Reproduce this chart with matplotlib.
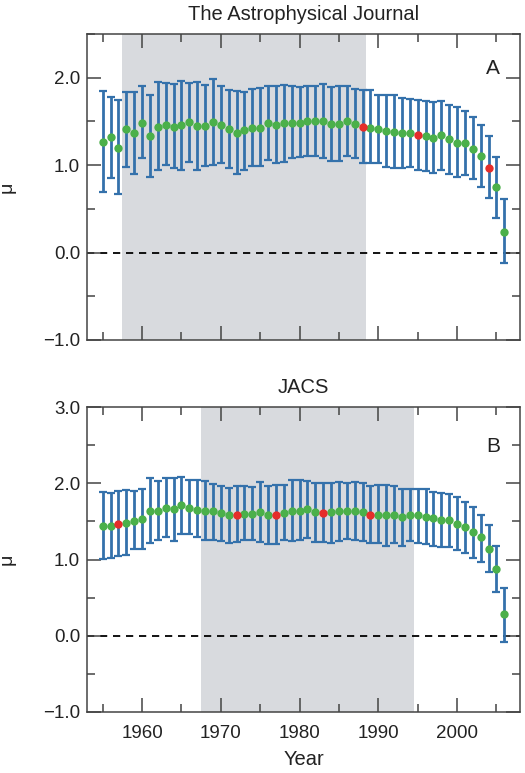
import matplotlib
matplotlib.use("Agg")
import matplotlib.pyplot as plt
import numpy as np
from matplotlib.ticker import MultipleLocator

plt.rcParams['font.family'] = ['Liberation Sans', 'DejaVu Sans']

years = list(range(1955, 2007))

# Panel A: The Astrophysical Journal
apj_mu = [1.27, 1.32, 1.20, 1.41, 1.37, 1.48, 1.33, 1.44, 1.46, 1.44, 1.46, 1.49, 1.45, 1.45, 1.49, 1.46,
          1.41, 1.37, 1.40, 1.43, 1.43, 1.48, 1.46, 1.48, 1.48, 1.48, 1.51, 1.51, 1.50, 1.47, 1.47, 1.51,
          1.47, 1.44, 1.42, 1.41, 1.39, 1.38, 1.37, 1.37, 1.35, 1.33, 1.31, 1.34, 1.30, 1.25, 1.25, 1.19,
          1.10, 0.97, 0.75, 0.24]
apj_hi = [1.85, 1.78, 1.74, 1.84, 1.84, 1.90, 1.80, 1.95, 1.94, 1.93, 1.96, 1.94, 1.95, 1.92, 1.99, 1.90,
          1.86, 1.85, 1.84, 1.87, 1.88, 1.90, 1.90, 1.92, 1.90, 1.89, 1.91, 1.90, 1.93, 1.89, 1.90, 1.91,
          1.87, 1.86, 1.86, 1.80, 1.80, 1.80, 1.77, 1.76, 1.75, 1.73, 1.72, 1.73, 1.69, 1.66, 1.62, 1.55,
          1.46, 1.33, 1.09, 0.61]
apj_lo = [0.69, 0.85, 0.67, 0.98, 0.90, 1.08, 0.87, 0.95, 1.00, 0.97, 0.95, 1.04, 0.95, 0.99, 1.00, 1.03,
          0.97, 0.90, 0.95, 0.99, 0.99, 1.06, 1.02, 1.04, 1.08, 1.09, 1.11, 1.11, 1.08, 1.05, 1.05, 1.10,
          1.08, 1.03, 1.02, 1.02, 0.98, 0.97, 0.97, 0.98, 0.94, 0.93, 0.91, 0.95, 0.90, 0.87, 0.89, 0.84,
          0.75, 0.62, 0.40, -0.12]
apj_red = [1988, 1995, 2004]
apj_shade = (1957.5, 1988.5)

# Panel B: JACS
jacs_mu = [1.44, 1.44, 1.47, 1.48, 1.51, 1.53, 1.63, 1.64, 1.67, 1.66, 1.71, 1.67, 1.65, 1.64, 1.64, 1.61,
           1.58, 1.59, 1.60, 1.60, 1.62, 1.59, 1.59, 1.61, 1.64, 1.64, 1.66, 1.62, 1.61, 1.62, 1.63, 1.63,
           1.64, 1.62, 1.59, 1.59, 1.58, 1.59, 1.56, 1.59, 1.58, 1.56, 1.54, 1.52, 1.52, 1.47, 1.43, 1.36,
           1.29, 1.14, 0.88, 0.28]
jacs_hi = [1.88, 1.87, 1.90, 1.91, 1.90, 1.93, 2.07, 2.03, 2.07, 2.07, 2.08, 2.04, 2.04, 2.03, 1.99, 1.97,
           1.94, 1.96, 1.96, 1.95, 2.02, 1.97, 1.98, 1.98, 2.04, 2.04, 2.03, 2.00, 2.00, 2.00, 2.01, 2.00,
           2.02, 2.00, 1.96, 1.98, 1.98, 1.97, 1.93, 1.93, 1.93, 1.92, 1.89, 1.87, 1.86, 1.82, 1.76, 1.69,
           1.59, 1.45, 1.18, 0.62]
jacs_lo = [1.01, 1.02, 1.04, 1.06, 1.14, 1.14, 1.21, 1.25, 1.29, 1.24, 1.34, 1.33, 1.29, 1.26, 1.25, 1.24,
           1.22, 1.23, 1.26, 1.26, 1.23, 1.20, 1.20, 1.25, 1.24, 1.26, 1.28, 1.23, 1.23, 1.22, 1.24, 1.27,
           1.26, 1.24, 1.21, 1.21, 1.18, 1.21, 1.18, 1.24, 1.21, 1.20, 1.18, 1.17, 1.16, 1.12, 1.09, 1.02,
           0.97, 0.83, 0.58, -0.08]
jacs_red = [1957, 1972, 1977, 1983, 1989]
jacs_shade = (1967.5, 1994.5)

BLUE = '#3471ab'
GREEN = '#4bb04a'
RED = '#e52d2a'
SHADE = '#d8dade'
SPINE = '#444444'
TXT = '#222222'

fig = plt.figure(figsize=(5.25, 7.73), dpi=100)
axA = fig.add_axes([87/525, 1-340/773, 433/525, 306/773])
axB = fig.add_axes([87/525, 1-712/773, 433/525, 305/773])


def draw(ax, mu, hi, lo, red, shade, ylim, title, letter, ly):
    yrs = np.array(years)
    mu = np.array(mu); hi = np.array(hi); lo = np.array(lo)
    ax.axvspan(shade[0], shade[1], color=SHADE, zorder=0, lw=0)
    ax.axhline(0, color='black', ls=(0, (4, 3.2)), lw=1.3, zorder=1)
    ax.errorbar(yrs, mu, yerr=[mu - lo, hi - mu], fmt='none', ecolor=BLUE,
                elinewidth=2.0, capsize=2.6, capthick=1.6, zorder=2)
    isred = np.isin(yrs, red)
    ax.plot(yrs[~isred], mu[~isred], 'o', color=GREEN, ms=6, mec='none', zorder=3)
    ax.plot(yrs[isred], mu[isred], 'o', color=RED, ms=6, mec='none', zorder=3)
    ax.set_xlim(1953, 2008)
    ax.set_ylim(*ylim)
    ax.xaxis.set_major_locator(MultipleLocator(10))
    ax.xaxis.set_minor_locator(MultipleLocator(5))
    ax.yaxis.set_major_locator(MultipleLocator(1.0))
    ax.yaxis.set_minor_locator(MultipleLocator(0.5))
    ax.yaxis.set_major_formatter(plt.FuncFormatter(lambda v, p: ('\u2212%.1f' % -v) if v < 0 else '%.1f' % v))
    ax.tick_params(which='both', direction='in', top=True, right=True, color=SPINE,
                   labelsize=13.5, labelcolor=TXT, width=1.1)
    ax.tick_params(which='major', length=10)
    ax.tick_params(axis='y', which='major', pad=5)
    ax.tick_params(axis='x', which='major', pad=9)
    ax.tick_params(which='minor', length=5.5)
    for s in ax.spines.values():
        s.set_color(SPINE)
        s.set_linewidth(1.1)
    ax.set_title(title, fontsize=14.5, color=TXT, pad=10)
    ax.set_ylabel('\u03bc', fontsize=14, color=TXT)
    ax.yaxis.set_label_coords(-0.165, 0.5)
    ax.text(0.938, ly, letter, transform=ax.transAxes, fontsize=15, ha='center', va='center',
            color=TXT)


draw(axA, apj_mu, apj_hi, apj_lo, apj_red, apj_shade, (-1.0, 2.5), 'The Astrophysical Journal', 'A', 0.888)
draw(axB, jacs_mu, jacs_hi, jacs_lo, jacs_red, jacs_shade, (-1.0, 3.0), 'JACS', 'B', 0.870)
axA.tick_params(axis='x', which='both', labelbottom=False)
axB.set_xlabel('Year', fontsize=14.5, color=TXT, labelpad=6)

fig.savefig('out.png', dpi=100)
